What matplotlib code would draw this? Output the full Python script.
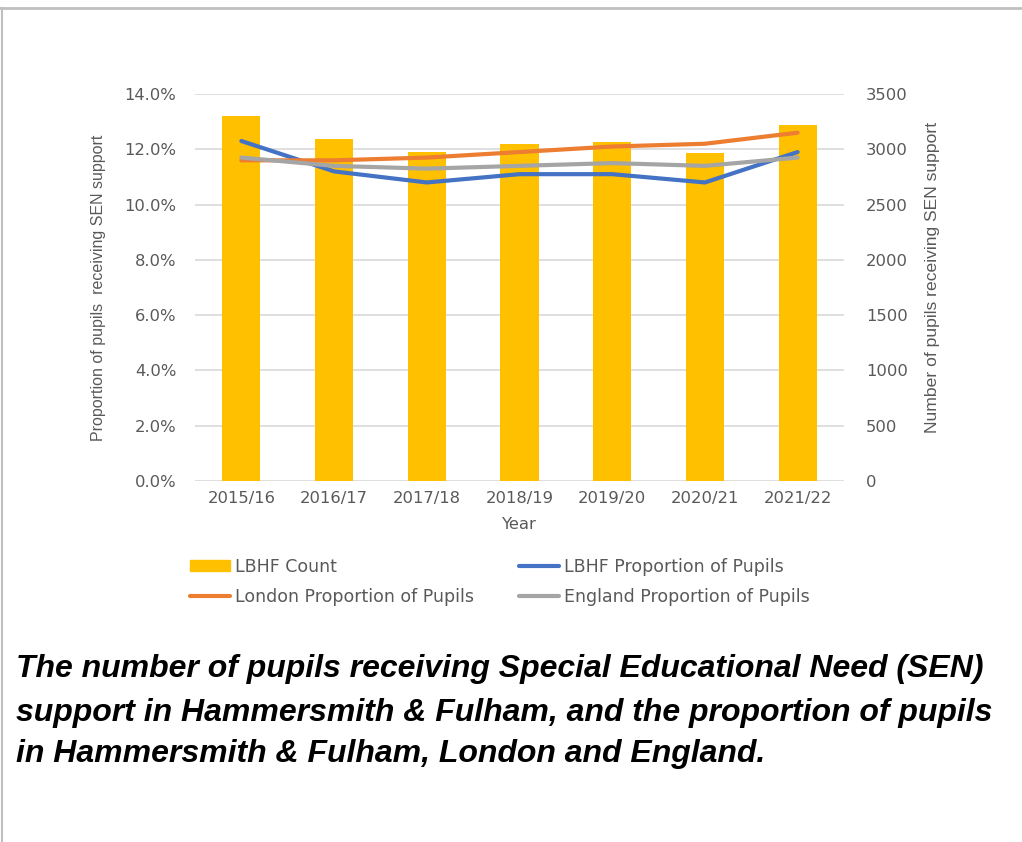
import matplotlib
matplotlib.use("Agg")
import matplotlib.pyplot as plt
from matplotlib.lines import Line2D
from matplotlib.patches import Patch
import numpy as np

years = ["2015/16", "2016/17", "2017/18", "2018/19", "2019/20", "2020/21", "2021/22"]
lbhf_count = [3300, 3090, 2975, 3045, 3065, 2965, 3220]
lbhf_prop = [12.3, 11.2, 10.8, 11.1, 11.1, 10.8, 11.9]
london_prop = [11.6, 11.6, 11.7, 11.9, 12.1, 12.2, 12.6]
england_prop = [11.7, 11.4, 11.3, 11.4, 11.5, 11.4, 11.7]

caption = ["The number of pupils receiving Special Educational Need (SEN)",
           "support in Hammersmith & Fulham, and the proportion of pupils",
           "in Hammersmith & Fulham, London and England."]

plt.rcParams['font.family'] = ['DejaVu Sans']
TXT = '#595959'
FS = 11.8
LIB = ['Liberation Sans', 'DejaVu Sans']

fig = plt.figure(figsize=(10.22, 8.42), dpi=100)
W, H = 1022, 842
ax_left = 195 / W
ax_right = 844 / W
ax_top = 1 - 94 / H
ax_bot = 1 - 481 / H
axc = fig.add_axes([ax_left, ax_bot, ax_right - ax_left, ax_top - ax_bot])  # count (right)
axp = axc.twinx()
axp.yaxis.tick_left()
axp.yaxis.set_label_position('left')
axc.yaxis.tick_right()
axc.yaxis.set_label_position('right')

x = np.arange(len(years))
axc.bar(x, lbhf_count, width=0.41, color='#FFC000', zorder=2)
axc.set_ylim(0, 3500)
axc.set_yticks(np.arange(0, 3501, 500))
axc.grid(axis='y', color='#D9D9D9', linewidth=1.2, zorder=0)
axc.set_axisbelow(True)

lb, = axp.plot(x, lbhf_prop, color='#4472C4', linewidth=3, solid_capstyle='round')
lo, = axp.plot(x, london_prop, color='#ED7D31', linewidth=3, solid_capstyle='round')
en, = axp.plot(x, england_prop, color='#A5A5A5', linewidth=3, solid_capstyle='round')
axp.set_ylim(0, 14)
pt = np.arange(0, 14.01, 2)
axp.set_yticks(pt)
axp.set_yticklabels([f"{v:.1f}%" for v in pt])

axc.set_xlim(-0.5, len(years) - 0.5)
axc.set_xticks(x)
axc.set_xticklabels(years)

for a in (axc, axp):
    for s in a.spines.values():
        s.set_visible(False)
    a.tick_params(length=0, labelsize=FS, colors=TXT)
axc.tick_params(axis='x', pad=7)
axp.tick_params(axis='y', pad=13.5)
axc.tick_params(axis='y', pad=16)

axc.set_xlabel("Year", fontsize=FS, color=TXT, labelpad=8)
axp.set_ylabel("Proportion of pupils  receiving SEN support", fontsize=11.5, color=TXT,
               labelpad=13, family=LIB)
axc.set_ylabel("Number of pupils receiving SEN support", fontsize=12.6, color=TXT,
               labelpad=12, family=LIB)
axc.yaxis.label.set_y(0.525)

handles = [Patch(color='#FFC000'), lo, lb, en]
labels = ["LBHF Count", "London Proportion of Pupils", "LBHF Proportion of Pupils",
          "England Proportion of Pupils"]
leg = fig.legend(handles, labels, ncol=2, loc='center left',
                 bbox_to_anchor=(190 / W, 1 - 582 / H), borderpad=0, borderaxespad=0,
                 frameon=False, fontsize=12.5, handlelength=2.3, handletextpad=0.3,
                 columnspacing=2.6, labelspacing=0.7, handleheight=0.6)
for t in leg.get_texts():
    t.set_color(TXT)

ys = [669, 713, 754]
for line, yy in zip(caption, ys):
    fig.text(16 / W, 1 - yy / H, line, fontsize=23, fontweight='bold', fontstyle='italic',
             fontstretch='normal', color='black', va='center', ha='left', family=LIB)

fig.add_artist(Line2D([0, 1], [1 - 8 / H, 1 - 8 / H], transform=fig.transFigure,
                      color='#BFBFBF', linewidth=2))
fig.add_artist(Line2D([1.5 / W, 1.5 / W], [0, 1 - 8 / H], transform=fig.transFigure,
                      color='#BFBFBF', linewidth=1.5))

fig.savefig("out.png", dpi=100, facecolor='white')
